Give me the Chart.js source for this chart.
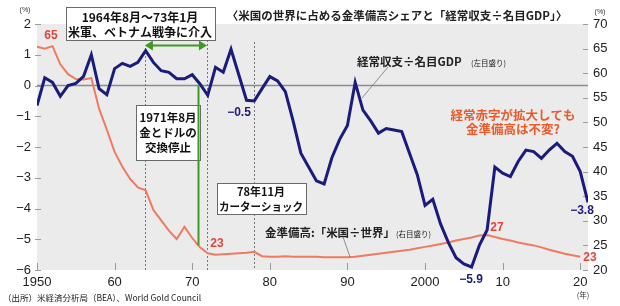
<!DOCTYPE html>
<html>
<head>
<meta charset="utf-8">
<script src="https://cdn.jsdelivr.net/npm/chart.js@4.4.1/dist/chart.umd.min.js"></script>
<style>
  html, body { margin: 0; padding: 0; background: #fff; }
  #wrap { width: 620px; height: 306px; position: relative; }
</style>
</head>
<body>
<div id="wrap"><canvas id="c"></canvas></div>
<script>
// 年
const years = [1950,1951,1952,1953,1954,1955,1956,1957,1958,1959,
  1960,1961,1962,1963,1964,1965,1966,1967,1968,1969,
  1970,1971,1972,1973,1974,1975,1976,1977,1978,1979,
  1980,1981,1982,1983,1984,1985,1986,1987,1988,1989,
  1990,1991,1992,1993,1994,1995,1996,1997,1998,1999,
  2000,2001,2002,2003,2004,2005,2006,2007,2008,2009,
  2010,2011,2012,2013,2014,2015,2016,2017,2018,2019,
  2020,2021];

// 経常収支÷名目GDP (%, 左目盛り)
const currentAccount = [-0.65,0.25,0.1,-0.35,0.0,0.07,0.3,1.0,-0.1,-0.3,
  0.55,0.72,0.62,0.75,1.13,0.75,0.48,0.43,0.22,0.22,
  0.35,0.05,-0.32,0.59,0.43,1.18,0.35,-0.48,-0.5,-0.1,
  0.29,0.15,-0.2,-1.15,-2.2,-2.65,-3.1,-3.2,-2.35,-1.75,
  -1.3,0.1,-0.8,-1.15,-1.55,-1.4,-1.45,-1.5,-2.2,-2.9,
  -3.9,-3.7,-4.5,-5.1,-5.6,-5.8,-5.9,-5.2,-4.7,-2.65,
  -2.85,-2.96,-2.47,-2.1,-2.15,-2.37,-2.1,-1.88,-2.15,-2.3,
  -2.8,-3.8];

// 金準備高 米国÷世界 (%, 右目盛り) 1950-2020
const goldShare = [65.4,65.0,65.5,61.8,59.8,58.8,58.7,59.0,52.8,48.5,
  44.0,41.0,38.5,36.8,36.2,32.2,30.1,28.0,26.3,28.8,
  26.5,24.6,23.4,23.1,23.2,23.3,23.4,23.5,23.7,22.8,
  22.7,22.7,22.8,22.7,22.7,22.7,22.7,22.6,22.6,22.6,
  22.6,22.7,22.9,23.1,23.3,23.5,23.7,23.9,24.1,24.4,
  24.7,25.0,25.3,25.6,26.0,26.3,26.6,27.0,27.1,26.7,
  26.3,26.0,25.6,25.3,25.0,24.6,24.1,23.7,23.3,23.0,
  22.7];

const leftTicks = [-6,-5,-4,-3,-2,-1,0,1,2];
const rightTicks = [20,25,30,35,40,45,50,55,60,65,70];
const xTicks = [1950,1960,1970,1980,1990,2000,2010,2020];

const JP = '"Noto Sans CJK JP", sans-serif';
const NUM = '"Liberation Sans", Arial, sans-serif';
const NAVY = '#1b1b7c';
const SALMON = '#f07a60';
const RED = '#e2453a';
const ORANGE = '#ec5a2a';
const GREEN = '#3f9a22';

function line(ctx, x1, y1, x2, y2) {
  ctx.beginPath(); ctx.moveTo(x1, y1); ctx.lineTo(x2, y2); ctx.stroke();
}
function txt(ctx, s, x, y, font, color, align, maxW) {
  ctx.font = font; ctx.fillStyle = color;
  ctx.textAlign = align || 'center'; ctx.textBaseline = 'middle';
  if (maxW) ctx.fillText(s, x, y, maxW); else ctx.fillText(s, x, y);
}
function box(ctx, x, y, w, h) {
  ctx.fillStyle = '#fff'; ctx.fillRect(x, y, w, h);
  ctx.strokeStyle = '#6a6a6a'; ctx.lineWidth = 1; ctx.strokeRect(x + 0.5, y + 0.5, w, h);
}

const decor = {
  id: 'decor',
  beforeDraw(chart) {
    const { ctx, chartArea: a } = chart;
    ctx.save();
    ctx.fillStyle = '#ebebeb';
    ctx.fillRect(a.left, a.top, a.right - a.left, a.bottom - a.top);
    ctx.restore();
  },
  beforeDatasetsDraw(chart) {
    const { ctx, chartArea: a, scales } = chart;
    const { x, y, y2 } = scales;
    ctx.save();
    // ゼロ線
    const y0 = y.getPixelForValue(0);
    ctx.strokeStyle = '#8c8c8c'; ctx.lineWidth = 1.5;
    line(ctx, a.left, y0, a.right, y0);
    // 点線 (64年8月, 73年1月, 78年11月)
    ctx.setLineDash([2, 2]); ctx.strokeStyle = '#777'; ctx.lineWidth = 1;
    const ev = [[1963.9, 48], [1971.9, 40], [1978.0, 42]];
    ev.forEach(e => { const px = Math.round(x.getPixelForValue(e[0])) + 0.5; line(ctx, px, e[1], px, a.bottom); });
    ctx.setLineDash([]);
    // 目盛り
    ctx.strokeStyle = '#9a9a9a'; ctx.lineWidth = 1;
    leftTicks.forEach(v => { const p = Math.round(y.getPixelForValue(v)) + 0.5; line(ctx, a.left - 2, p, a.left + 4, p); });
    rightTicks.forEach(v => { const p = Math.round(y2.getPixelForValue(v)) + 0.5; line(ctx, a.right - 5, p, a.right, p); });
    xTicks.forEach(v => { const p = Math.round(x.getPixelForValue(v)) + 0.5; line(ctx, p, a.bottom - 7, p, a.bottom); });
    ctx.restore();
  },
  afterDatasetsDraw(chart) {
    const { ctx, chartArea: a, scales } = chart;
    const { x, y, y2 } = scales;
    ctx.save();

    // 単位
    txt(ctx, '(%)', 25, 10, '7px ' + NUM, '#333');
    txt(ctx, '(%)', 600, 12, '7px ' + NUM, '#333');

    // タイトル
    txt(ctx, '〈米国の世界に占める金準備高シェアと「経常収支÷名目GDP」〉', 397, 16, 'bold 11.5px ' + JP, '#222', 'center', 352);

    // 緑の矢印 (64年8月〜73年1月)
    const ax1 = x.getPixelForValue(1963.9), ax2 = x.getPixelForValue(1971.9), ay = 45.5;
    ctx.strokeStyle = GREEN; ctx.fillStyle = GREEN; ctx.lineWidth = 2;
    line(ctx, ax1 + 5, ay, ax2 - 5, ay);
    ctx.beginPath(); ctx.moveTo(ax1, ay); ctx.lineTo(ax1 + 8, ay - 5); ctx.lineTo(ax1 + 8, ay + 5); ctx.closePath(); ctx.fill();
    ctx.beginPath(); ctx.moveTo(ax2, ay); ctx.lineTo(ax2 - 8, ay - 5); ctx.lineTo(ax2 - 8, ay + 5); ctx.closePath(); ctx.fill();

    // 箱1
    box(ctx, 66, 7, 149, 33);
    txt(ctx, '1964年8月～73年1月', 140, 17, 'bold 12px ' + JP, '#111');
    txt(ctx, '米軍、ベトナム戦争に介入', 140, 32, 'bold 12px ' + JP, '#111', 'center', 144);

    // 箱2 + 緑の縦線 (71年8月)
    box(ctx, 136, 105, 64, 55);
    txt(ctx, '1971年8月', 168, 118, 'bold 11.5px ' + JP, '#111');
    txt(ctx, '金とドルの', 168, 133, 'bold 11.5px ' + JP, '#111');
    txt(ctx, '交換停止', 168, 148, 'bold 11.5px ' + JP, '#111');
    const gx = Math.round(x.getPixelForValue(1970.75)) + 0.5;
    ctx.strokeStyle = GREEN; ctx.lineWidth = 2;
    line(ctx, gx, y.getPixelForValue(0), gx, y2.getPixelForValue(25));

    // 箱3
    box(ctx, 217, 183, 89, 31);
    txt(ctx, '78年11月', 261, 192, 'bold 11px ' + JP, '#111');
    txt(ctx, 'カーターショック', 261, 207, 'bold 11px ' + JP, '#111', 'center', 84);

    // 系列ラベル
    txt(ctx, '経常収支÷名目GDP', 357, 62, 'bold 11.5px ' + JP, '#222', 'left', 113);
    txt(ctx, '(左目盛り)', 471, 63, '7.5px ' + JP, '#222', 'left');
    ctx.strokeStyle = '#777'; ctx.lineWidth = 0.8;
    line(ctx, 388, 67, 362, 98);

    txt(ctx, '金準備高:「米国÷世界」', 265, 233, 'bold 11.5px ' + JP, '#222', 'left', 130);
    txt(ctx, '(右目盛り)', 396, 234, '7.5px ' + JP, '#222', 'left');
    line(ctx, 343, 237, 350, 257);

    txt(ctx, '経常赤字が拡大しても', 513, 115, 'bold 12.5px ' + JP, ORANGE, 'center', 128);
    txt(ctx, '金準備高は不変?', 513, 129, 'bold 12.5px ' + JP, ORANGE);

    // 値ラベル
    txt(ctx, '65', 51, 36, 'bold 12px ' + NUM, RED);
    txt(ctx, '23', 217, 244, 'bold 12px ' + NUM, RED);
    txt(ctx, '27', 497, 228, 'bold 12px ' + NUM, RED);
    txt(ctx, '23', 590, 258, 'bold 12px ' + NUM, RED);
    txt(ctx, '−0.5', 239, 113, 'bold 12px ' + NUM, NAVY);
    txt(ctx, '−5.9', 471, 280, 'bold 12px ' + NUM, NAVY);
    txt(ctx, '−3.8', 582, 211, 'bold 12px ' + NUM, NAVY);

    // 出所・年
    txt(ctx, '（出所）米経済分析局（BEA）、World Gold Council', 3, 298, '8.5px ' + JP, '#222', 'left', 212);
    txt(ctx, '(年)', 583, 295, '7.5px ' + JP, '#333');
    ctx.restore();
  }
};

const tickFont = { family: NUM, size: 13 };

new Chart(document.getElementById('c'), {
  type: 'line',
  data: {
    datasets: [
      {
        label: '経常収支÷名目GDP',
        data: years.map((yr, i) => ({ x: yr, y: currentAccount[i] })),
        yAxisID: 'y',
        borderColor: NAVY,
        borderWidth: 3,
        pointRadius: 0,
        tension: 0
      },
      {
        label: '金準備高:「米国÷世界」',
        data: goldShare.map((v, i) => ({ x: years[i], y: v })),
        yAxisID: 'y2',
        borderColor: SALMON,
        borderWidth: 2,
        pointRadius: 0,
        tension: 0
      }
    ]
  },
  options: {
    responsive: true,
    maintainAspectRatio: false,
    animation: false,
    devicePixelRatio: 1,
    layout: { padding: { top: 24, left: 0, right: 0, bottom: 0 } },
    plugins: { legend: { display: false }, tooltip: { enabled: false } },
    scales: {
      x: {
        type: 'linear', min: 1950, max: 2021,
        grid: { display: false, drawTicks: false },
        border: { display: false },
        afterBuildTicks: s => { s.ticks = xTicks.map(v => ({ value: v })); },
        afterFit: s => { s.height = 36; },
        ticks: {
          autoSkip: false, maxRotation: 0, padding: 5, font: tickFont, color: '#222',
          callback: v => (v === 1950 || v === 2000) ? String(v) : String(v % 100)
        }
      },
      y: {
        position: 'left', min: -6, max: 2,
        grid: { display: false, drawTicks: false },
        border: { display: false },
        afterBuildTicks: s => { s.ticks = leftTicks.map(v => ({ value: v })); },
        afterFit: s => { s.width = 37; },
        ticks: { padding: 6, font: tickFont, color: '#222', callback: v => v < 0 ? '−' + Math.abs(v) : String(v) }
      },
      y2: {
        position: 'right', min: 20, max: 70,
        grid: { display: false, drawTicks: false },
        border: { display: false },
        afterBuildTicks: s => { s.ticks = rightTicks.map(v => ({ value: v })); },
        afterFit: s => { s.width = 32; },
        ticks: { padding: 5, font: tickFont, color: '#222' }
      }
    }
  },
  plugins: [decor]
});
</script>
</body>
</html>
